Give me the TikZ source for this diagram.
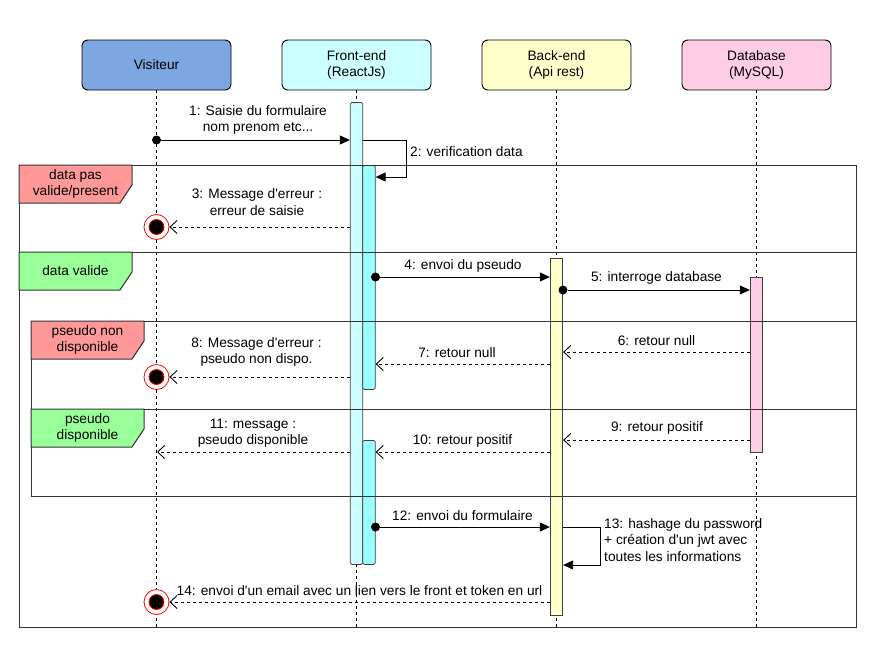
\documentclass[tikz,border=0pt]{standalone}
\usepackage{fontspec}
\setmainfont{Liberation Sans}[Ligatures=TeXOff]
\usetikzlibrary{arrows}
\usetikzlibrary{arrows.meta}
\usetikzlibrary{backgrounds}

\definecolor{visitblue}{HTML}{7EA6E0}
\definecolor{frontcyan}{HTML}{CCFFFF}
\definecolor{checkcyan}{HTML}{99FFFF}
\definecolor{backyellow}{HTML}{FFFFCC}
\definecolor{dbpink}{HTML}{FFCCE6}
\definecolor{badred}{HTML}{FF9999}
\definecolor{goodgreen}{HTML}{99FF99}
\definecolor{framegray}{HTML}{333333}

\begin{document}
\begin{tikzpicture}[x=1pt, y=-1pt,
    font=\fontsize{13.7}{16.5}\selectfont,
    head/.style={draw, rounded corners=6pt, minimum width=149pt, minimum height=50pt, inner sep=0pt, align=center, line width=0.9pt},
    bar/.style={draw=black!75, anchor=north, minimum width=12.5pt, inner sep=0pt, line width=0.8pt},
    life/.style={dash pattern=on 3pt off 3pt, line width=0.9pt},
    frame/.style={draw=framegray, line width=1pt},
    tag/.style={draw=framegray, line width=1pt},
    dot/.style={circle, fill=black, minimum size=9pt, inner sep=0pt},
    kill/.style={circle, draw=red, fill=white, minimum size=25pt, inner sep=0pt, line width=0.8pt,
        path picture={\draw[red, fill=black, line width=0.8pt] (path picture bounding box.center) circle (7.5pt);}},
    sync/.style={line width=0.9pt, -{Triangle[length=10pt, width=9pt]}},
    reply/.style={line width=0.9pt, dash pattern=on 3pt off 3pt, -{Straight Barb[length=7pt, width=13pt]}},
    msg/.style={align=center, inner sep=1pt}]
    \useasboundingbox (0,0) rectangle (886,646);

        % lifeline heads
        \node[head, fill=visitblue] (visitor) at (156.5,65) {Visiteur};
        \node[head, fill=frontcyan] (front) at (356.5,65) {Front-end\\(ReactJs)};
        \node[head, fill=backyellow] (back) at (556.5,65) {Back-end\\(Api rest)};
        \node[head, fill=dbpink] (db) at (756.5,65) {Database\\(MySQL)};

        \coordinate (visitorend) at (156.5,627);
        \coordinate (frontend) at (356.5,627);
        \coordinate (backend) at (556.5,627);
        \coordinate (dbend) at (756.5,627);

        \draw[life] (visitor.south) -- (visitorend);
        \draw[life] (front.south) -- (frontend);
        \draw[life] (back.south) -- (backend);
        \draw[life] (db.south) -- (dbend);

        % activations
        \node[bar, fill=frontcyan, minimum height=462pt, rounded corners=1.5pt] (frontbar) at (356.5,102) {};
        \node[bar, fill=checkcyan, minimum height=224pt, rounded corners=1.5pt] (frontcheck) at (369,165) {};
        \node[bar, fill=checkcyan, minimum height=124pt, rounded corners=1.5pt] (frontok) at (369,440) {};
        \node[bar, fill=backyellow, minimum height=357pt] (backbar) at (556.5,258) {};
        \node[bar, fill=dbpink, minimum height=175pt] (dbbar) at (756.5,277) {};

        % frames
        \draw[frame] (19,165) rectangle (856,252);
        \draw[frame] (19,252) rectangle (856,627);
        \draw[frame] (31,321) rectangle (856,409);
        \draw[frame] (31,409) rectangle (856,496);

        \draw[tag, fill=badred] (19,165) -- ++(113,0) -- ++(0,20) -- ++(-12,18) -- ++(-101,0) -- cycle;
        \node[align=center] (tagbad) at (75.5,184) {data pas\\valide/present};
        \draw[tag, fill=goodgreen] (19,252) -- ++(113,0) -- ++(0,20) -- ++(-12,18) -- ++(-101,0) -- cycle;
        \node (taggood) at (75.5,271) {data valide};
        \draw[tag, fill=badred] (31,321) -- ++(113,0) -- ++(0,20) -- ++(-12,18) -- ++(-101,0) -- cycle;
        \node[align=center] (tagtaken) at (87.5,340) {pseudo non\\disponible};
        \draw[tag, fill=goodgreen] (31,409) -- ++(113,0) -- ++(0,20) -- ++(-12,18) -- ++(-101,0) -- cycle;
        \node[align=center] (tagfree) at (87.5,428) {pseudo\\disponible};

        % message levels
        \node[dot] (dot1) at (156.5,140) {};
        \node[dot] (dot4) at (375.5,277) {};
        \node[dot] (dot5) at (563,290) {};
        \node[dot] (dot12) at (375.5,527) {};
        \node[kill] (kill3) at (156.5,227) {};
        \node[kill] (kill8) at (156.5,377) {};
        \node[kill] (kill14) at (156.5,602) {};
        \coordinate (lvl2) at (406,177);
        \coordinate (lvl6) at (0,352);
        \coordinate (lvl7) at (0,364);
        \coordinate (lvl9) at (0,440);
        \coordinate (lvl10) at (0,452);
        \coordinate (lvl11) at (157,452);
        \coordinate (lvl13) at (600,565);

        % messages
        \draw[sync] (dot1) -- (dot1 -| frontbar.west);
        \node[msg] (txt1) at (258,120) {1: Saisie du formulaire\\nom prenom etc...};
        \draw[sync] (frontbar.east |- dot1) -| (lvl2) -- (frontcheck.east |- lvl2);
        \node[msg, anchor=west] (txt2) at (409,152) {2: verification data};
        \draw[reply] (frontbar.west |- kill3) -- (kill3);
        \node[msg] (txt3) at (257,202) {3: Message d'erreur :\\erreur de saisie};
        \draw[sync] (dot4) -- (dot4 -| backbar.west);
        \node[msg] (txt4) at (463,266) {4: envoi du pseudo};
        \draw[sync] (dot5) -- (dot5 -| dbbar.west);
        \node[msg] (txt5) at (656.5,278) {5: interroge database};
        \draw[reply] (dbbar.west |- lvl6) -- (backbar.east |- lvl6);
        \node[msg] (txt6) at (656.5,341) {6: retour null};
        \draw[reply] (backbar.west |- lvl7) -- (frontcheck.east |- lvl7);
        \node[msg] (txt7) at (457,353) {7: retour null};
        \draw[reply] (frontbar.west |- kill8) -- (kill8);
        \node[msg] (txt8) at (256.5,352) {8: Message d'erreur :\\pseudo non dispo.};
        \draw[reply] (dbbar.west |- lvl9) -- (backbar.east |- lvl9);
        \node[msg] (txt9) at (657,428) {9: retour positif};
        \draw[reply] (backbar.west |- lvl10) -- (frontok.east |- lvl10);
        \node[msg] (txt10) at (462.5,441) {10: retour positif};
        \draw[reply] (frontbar.west |- lvl11) -- (lvl11);
        \node[msg] (txt11) at (253,433) {11: message :\\pseudo disponible};
        \draw[sync] (dot12) -- (dot12 -| backbar.west);
        \node[msg] (txt12) at (462.5,516) {12: envoi du formulaire};
        \draw[sync] (backbar.east |- dot12) -| (lvl13) -- (backbar.east |- lvl13);
        \node[msg, anchor=west, align=left] (txt13) at (603,540) {13: hashage du password\\+ création d'un jwt avec\\toutes les informations};
        \draw[reply] (backbar.west |- kill14) -- (kill14);
        \node[msg] (txt14) at (359.5,591) {14: envoi d'un email avec un lien vers le front et token en url};
    \end{tikzpicture}
\end{document}
